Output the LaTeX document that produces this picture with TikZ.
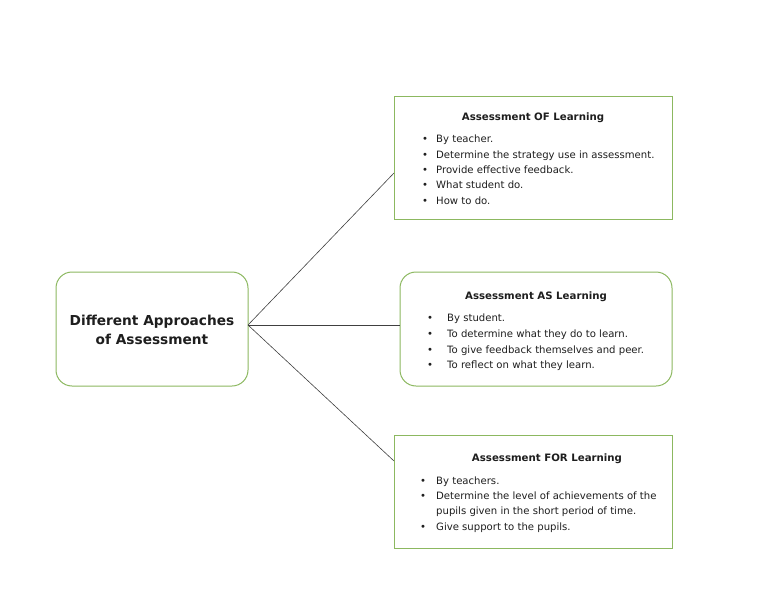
\documentclass[tikz,border=0pt]{standalone}
\usepackage{fontspec}
\setmainfont{DejaVu Sans}
\definecolor{boxgreen}{RGB}{140,184,96}
\definecolor{txt}{RGB}{30,30,30}
\tikzset{
  x=1pt, y=-1pt,
  sqbox/.style={draw=boxgreen, line width=1pt, fill=white},
  rdbox/.style={draw=boxgreen, line width=1pt, fill=white, rounded corners=16pt},
  conn/.style={draw=black!75, line width=0.6pt},
  ttl/.style={font=\fontsize{10.2}{12}\selectfont\bfseries, text=txt, inner sep=0pt, anchor=base},
  itm/.style={font=\fontsize{10.1}{12}\selectfont, text=txt, inner sep=0pt, anchor=base west},
  bul/.style={font=\fontsize{10.1}{12}\selectfont, text=txt, inner sep=0pt, anchor=base},
  big/.style={font=\fontsize{13.7}{16}\selectfont\bfseries, text=txt, inner sep=0pt, anchor=base}
}
\begin{document}
\begin{tikzpicture}
\useasboundingbox (0,0) rectangle (768,594);
% boxes
\path[rdbox] (56,272) rectangle (248,386);
\coordinate (mainR) at (248,325);
\path[sqbox] (394,96) rectangle (672,219);
\coordinate (topL) at (394,173);
\path[rdbox] (400,272) rectangle (672,386);
\coordinate (midL) at (400,325);
\path[sqbox] (394,435) rectangle (672,548);
\coordinate (botL) at (394,461);
% connectors
\draw[conn] (mainR) -- (topL);
\draw[conn] (mainR) -- (midL);
\draw[conn] (mainR) -- (botL);
% main text
\node[big] (m1) at (152,325) {Different Approaches};
\node[big] (m2) at (152,344) {of Assessment};
% top box
\node[ttl] (t0) at (533,120) {Assessment OF Learning};
\foreach \y/\t [count=\i] in {142/By teacher., 158/Determine the strategy use in assessment., 173/Provide effective feedback., 188/What student do., 204/How to do.}{
  \node[bul] (tb\i) at (425,\y) {•};
  \node[itm] (ti\i) at (436,\y) {\t};
}
% middle box
\node[ttl] (a0) at (536,299) {Assessment AS Learning};
\foreach \y/\t [count=\i] in {321/By student., 337/To determine what they do to learn., 353/To give feedback themselves and peer., 368/To reflect on what they learn.}{
  \node[bul] (ab\i) at (430,\y) {•};
  \node[itm] (ai\i) at (447,\y) {\t};
}
% bottom box
\node[ttl] (f0) at (547,461) {Assessment FOR Learning};
\node[bul] (fb1) at (423,484) {•};
\node[itm] (fi1) at (436,484) {By teachers.};
\node[bul] (fb2) at (423,499) {•};
\node[itm] (fi2) at (436,499) {Determine the level of achievements of the};
\node[itm] (fi2b) at (436,514) {pupils given in the short period of time.};
\node[bul] (fb3) at (423,530) {•};
\node[itm] (fi3) at (436,530) {Give support to the pupils.};
\end{tikzpicture}
\end{document}
